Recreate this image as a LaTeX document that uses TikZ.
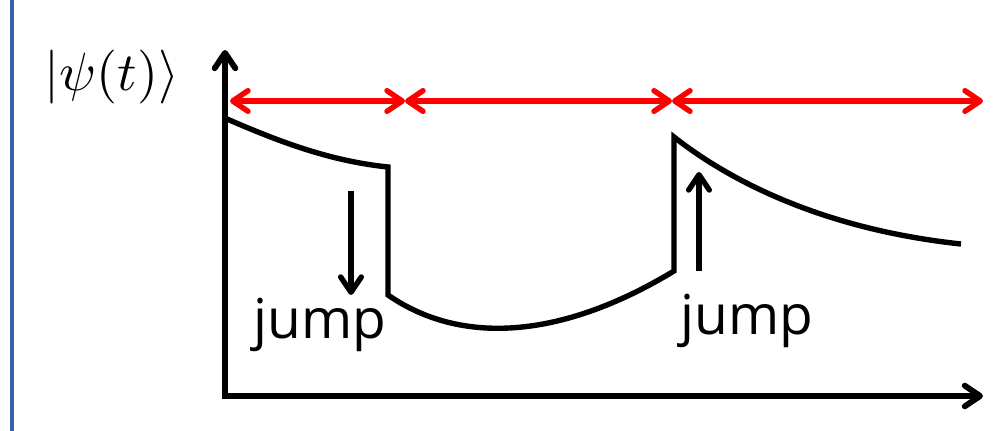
\documentclass[tikz,border=0pt]{standalone}
\usepackage{fontspec}
\usetikzlibrary{arrows.meta}
\newfontfamily\jumpfont{Open Sans}
\definecolor{frameblue}{RGB}{60,95,170}
\tikzset{
  barb/.tip={Straight Barb[round,length=4.6mm,width=6.2mm]},
  axis/.style={line width=5pt,-barb,line join=miter},
  span/.style={line width=4.6pt,red,barb-barb},
  state/.style={line width=4.6pt,line join=miter},
  jumparrow/.style={line width=4.6pt,-barb},
  jumplabel/.style={font=\jumpfont\fontsize{47}{50}\selectfont,anchor=base,inner sep=0pt},
}
\begin{document}
\begin{tikzpicture}[x=0.03cm,y=-0.03cm]
  \useasboundingbox (0,0) rectangle (1006,431);
  % frame line on the left
  \draw[frameblue,line width=2.8pt] (12,0) -- (12,431);

  % axes
  \coordinate (ytip) at (225,50);
  \coordinate (orig) at (225,396);
  \coordinate (xtip) at (983,396);
  \draw[axis,barb-barb] (ytip) -- (orig) -- (xtip);

  % axis label
  \node[scale=4.6] (lbl) at (112,77) {$|\psi(t)\rangle$};

  % intervals between jumps
  \coordinate (r0) at (230,101);
  \coordinate (r1) at (405,101);
  \coordinate (r2) at (672,101);
  \coordinate (r3) at (983,101);
  \draw[span] (r0) -- (r1);
  \draw[span] (r1) -- (r2);
  \draw[span] (r2) -- (r3);

  % evolution of the state with two jumps
  \coordinate (a0) at (227,119);
  \coordinate (a1) at (388,167);
  \coordinate (b0) at (388,295);
  \coordinate (b1) at (674,271);
  \coordinate (c0) at (674,137);
  \coordinate (c1) at (961,244);
  \draw[state] (a0) .. controls (280,142) and (330,161) .. (a1)
    -- (b0) .. controls (460,345) and (560,340) .. (b1)
    -- (c0) .. controls (735,185) and (830,230) .. (c1);

  % jump markers
  \coordinate (d0) at (351,191);
  \coordinate (d1) at (351,295);
  \draw[jumparrow] (d0) -- (d1);
  \coordinate (u0) at (699,271);
  \coordinate (u1) at (699,172);
  \draw[jumparrow] (u0) -- (u1);
  \node[jumplabel] (j1) at (320,339) {jump};
  \node[jumplabel] (j2) at (747,335) {jump};
\end{tikzpicture}
\end{document}
